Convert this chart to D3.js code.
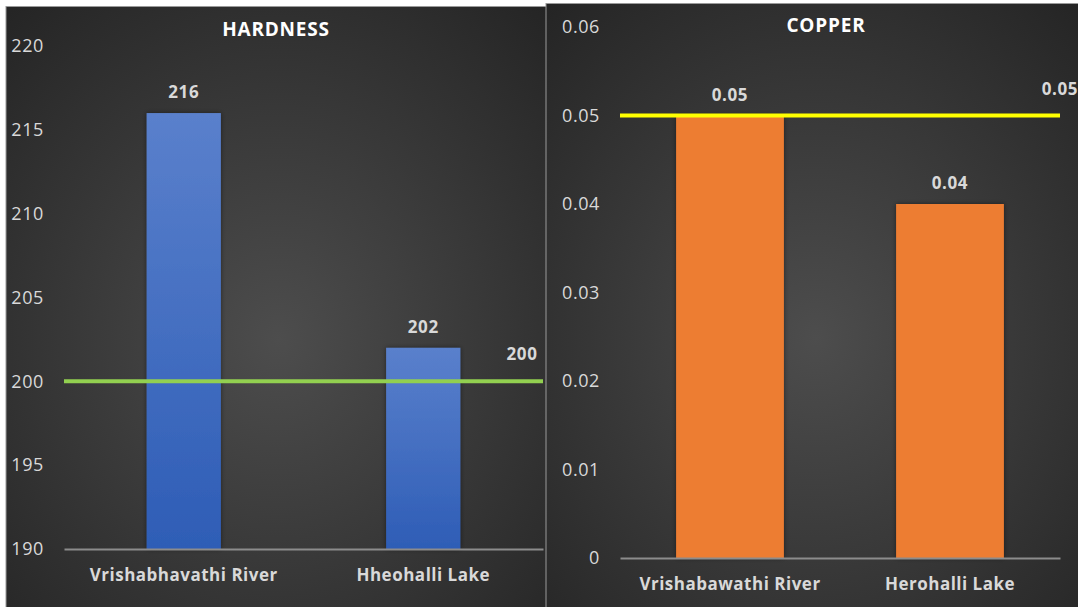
<!DOCTYPE html>
<html>
<head>
<meta charset="utf-8">
<script src="https://cdn.jsdelivr.net/npm/d3@7"></script>
<style>
  body { margin: 0; background: #fff; }
  svg { display: block; }
  text { font-family: "Open Sans", "Liberation Sans", sans-serif; }
</style>
</head>
<body>
<div id="chart"></div>
<script>
// hardness panel
const hardnessSites = ["Vrishabhavathi River", "Hheohalli Lake"];
const hardnessValues = [216, 202];
const hardnessLimit = 200;
const hardnessTicks = [190, 195, 200, 205, 210, 215, 220];

// copper panel
const copperSites = ["Vrishabawathi River", "Herohalli Lake"];
const copperValues = [0.05, 0.04];
const copperLimit = 0.05;
const copperTicks = [0, 0.01, 0.02, 0.03, 0.04, 0.05, 0.06];

const svg = d3.select("#chart")
    .append("svg")
    .attr("width", 1078)
    .attr("height", 607);

const defs = svg.append("defs");

const bg = defs.append("radialGradient")
    .attr("id", "bg")
    .attr("cx", "50%").attr("cy", "55%").attr("r", "75%");
bg.append("stop").attr("offset", "0%").attr("stop-color", "#4d4d4d");
bg.append("stop").attr("offset", "100%").attr("stop-color", "#242424");

const blue = defs.append("linearGradient")
    .attr("id", "blueBar")
    .attr("x1", 0).attr("y1", 0).attr("x2", 0).attr("y2", 1);
blue.append("stop").attr("offset", "0%").attr("stop-color", "#5a80cc");
blue.append("stop").attr("offset", "100%").attr("stop-color", "#2e5db6");

const shadow = defs.append("filter").attr("id", "shadow")
    .attr("x", "-20%").attr("y", "-20%").attr("width", "140%").attr("height", "140%");
shadow.append("feDropShadow")
    .attr("dx", 0).attr("dy", 0).attr("stdDeviation", 2.5)
    .attr("flood-color", "#000").attr("flood-opacity", 0.45);

function drawPanel(cfg) {
    const g = svg.append("g");

    g.append("rect")
        .attr("x", cfg.box[0]).attr("y", cfg.box[1])
        .attr("width", cfg.box[2]).attr("height", cfg.box[3])
        .attr("fill", "url(#bg)")
        .attr("stroke", "#9a9a9a")
        .attr("stroke-width", 1);

    const x = d3.scaleBand()
        .domain(cfg.sites)
        .range([cfg.left, cfg.right])
        .padding(0);

    const y = d3.scaleLinear()
        .domain(d3.extent(cfg.ticks))
        .range([cfg.bottom, cfg.top]);

    const barW = x.bandwidth() * cfg.barRatio;

    // y axis labels only, no line
    const yAxis = g.append("g")
        .attr("transform", `translate(${cfg.tickX},0)`)
        .call(d3.axisLeft(y).tickValues(cfg.ticks).tickSize(0).tickPadding(0).tickFormat(cfg.fmt));
    yAxis.select(".domain").remove();
    yAxis.selectAll("text")
        .attr("fill", "#d9d9d9")
        .style("font-size", "18px")
        .style("letter-spacing", "0.6px")
        .style("font-family", "'Open Sans', sans-serif");

    // bars
    g.selectAll(".bar")
        .data(cfg.values)
        .enter()
        .append("rect")
        .attr("class", "bar")
        .attr("x", (d, i) => x(cfg.sites[i]) + (x.bandwidth() - barW) / 2)
        .attr("y", d => y(d))
        .attr("width", barW)
        .attr("height", d => cfg.bottom - y(d))
        .attr("fill", cfg.fill)
        .attr("filter", "url(#shadow)");

    // x axis line + labels
    const xAxis = g.append("g")
        .attr("transform", `translate(0,${cfg.bottom})`)
        .call(d3.axisBottom(x).tickSize(0).tickPadding(cfg.labelPad));
    xAxis.select(".domain").attr("stroke", "#8c8c8c").attr("stroke-width", 2);
    xAxis.selectAll("text")
        .attr("fill", "#d9d9d9")
        .style("font-size", "17px")
        .style("font-weight", "bold")
        .style("letter-spacing", "0.5px")
        .style("font-family", "'Open Sans', sans-serif");

    // limit line
    g.append("line")
        .attr("x1", cfg.left).attr("x2", cfg.right)
        .attr("y1", y(cfg.limit)).attr("y2", y(cfg.limit))
        .attr("stroke", cfg.limitColor)
        .attr("stroke-width", 4);

    // value labels
    g.selectAll(".val")
        .data(cfg.values)
        .enter()
        .append("text")
        .attr("class", "val")
        .attr("x", (d, i) => x(cfg.sites[i]) + x.bandwidth() / 2)
        .attr("y", d => y(d) - 15)
        .attr("text-anchor", "middle")
        .attr("fill", "#d9d9d9")
        .style("font-size", "17px")
        .style("font-weight", "bold")
        .style("letter-spacing", "0.6px")
        .text(d => cfg.fmt(d));

    g.append("text")
        .attr("x", cfg.right - cfg.limitLabelInset)
        .attr("y", y(cfg.limit) - 21)
        .attr("text-anchor", "middle")
        .attr("fill", "#d9d9d9")
        .style("font-size", "17px")
        .style("font-weight", "bold")
        .style("letter-spacing", "0.6px")
        .text(cfg.fmt(cfg.limit));

    // title
    g.append("text")
        .attr("x", cfg.titleX)
        .attr("y", cfg.titleY)
        .attr("text-anchor", "middle")
        .attr("fill", "#ffffff")
        .style("font-size", "19px")
        .style("font-weight", "bold")
        .style("letter-spacing", "0.8px")
        .text(cfg.title);
}

drawPanel({
    box: [6, 6.5, 545, 605],
    sites: hardnessSites,
    values: hardnessValues,
    limit: hardnessLimit,
    ticks: hardnessTicks,
    fmt: d3.format("d"),
    left: 64, right: 543, top: 46, bottom: 549,
    tickX: 44,
    barRatio: 0.31,
    labelPad: 20,
    fill: "url(#blueBar)",
    limitColor: "#92d050",
    limitLabelInset: 21,
    title: "HARDNESS",
    titleX: 276, titleY: 36
});

drawPanel({
    box: [546, 3.5, 540, 608],
    sites: copperSites,
    values: copperValues,
    limit: copperLimit,
    ticks: copperTicks,
    fmt: d => d === 0 ? "0" : d3.format(".2f")(d),
    left: 620, right: 1060, top: 27, bottom: 558,
    tickX: 600,
    barRatio: 0.49,
    labelPad: 20,
    fill: "#ed7d31",
    limitColor: "#ffff00",
    limitLabelInset: 0,
    title: "COPPER",
    titleX: 826, titleY: 32
});
</script>
</body>
</html>
